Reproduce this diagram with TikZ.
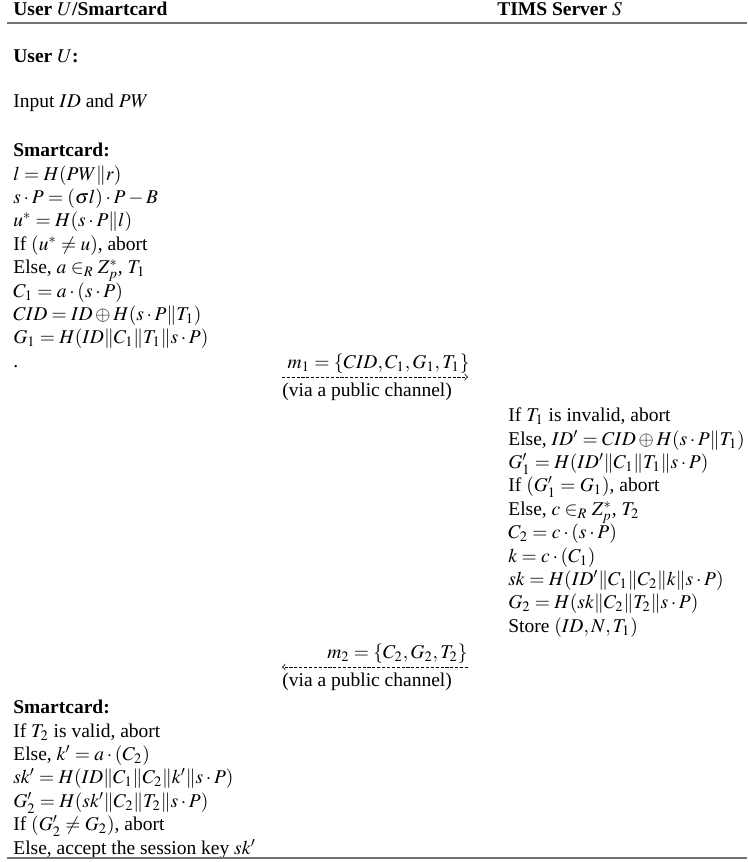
\documentclass[tikz,border=0pt]{standalone}
\usepackage{mathptmx}
\usepackage{fontspec}
\setmainfont{Liberation Serif}
\usetikzlibrary{positioning}
\tikzset{
  txt/.style = {anchor=base west, inner sep=0pt, align=left, font=\fontsize{10}{12}\selectfont},
  hdr/.style = {txt, font=\fontsize{10}{12}\selectfont\bfseries},
  blk/.style = {txt, anchor=north west},
  msg/.style = {->, dash pattern=on 1.6pt off 0.9pt, thin},
  hrule/.style = {line width=1pt, black!55}
}

\begin{document}
\begin{tikzpicture}[x=0.513pt, y=-0.513pt]
\useasboundingbox (0,0) rectangle (747,862);
% header
\node[hdr] (userhead) at (13,16) {User $U$/Smartcard};
\node[hdr] (serverhead) at (497,16) {TIMS Server $S$};
\coordinate (topl) at (7,23);
\coordinate (topr) at (747,23);
\draw[hrule] (topl) -- (topr);

% user side, first part
\node[hdr] (user) at (13,63) {User $U$:};
\node[txt] (input) at (13,108) {Input $ID$ and $PW$};
\node[blk] (card1) at (13,140) {\strut\textbf{Smartcard:}\\
$l = H(PW\|r)$\\
$s\cdot P = (\sigma l)\cdot P - B$\\
$u^{*} = H(s\cdot P\|l)$\\
If $(u^{*}\neq u)$, abort\\
Else, $a\in_R Z_p^{*}$, $T_1$\\
$C_1 = a\cdot(s\cdot P)$\\
$CID = ID\oplus H(s\cdot P\|T_1)$\\
$G_1 = H(ID\|C_1\|T_1\|s\cdot P)$\\
.};

% message m1
\coordinate (m1a) at (282,377);
\coordinate (m1b) at (468,377);
\draw[msg] (m1a) -- (m1b);
\node[txt, above left=1.5pt and -1pt of m1b] (m1) {$m_1 = \{CID, C_1, G_1, T_1\}$};
\node[txt, below right=3pt and 0pt of m1a] (via1) {(via a public channel)};

% server side
\node[blk] (server) at (508,405) {\strut If $T_1$ is invalid, abort\\
Else, $ID' = CID\oplus H(s\cdot P\|T_1)$\\
$G_1' = H(ID'\|C_1\|T_1\|s\cdot P)$\\
If $(G_1' = G_1)$, abort\\
Else, $c\in_R Z_p^{*}$, $T_2$\\
$C_2 = c\cdot(s\cdot P)$\\
$k = c\cdot(C_1)$\\
$sk = H(ID'\|C_1\|C_2\|k\|s\cdot P)$\\
$G_2 = H(sk\|C_2\|T_2\|s\cdot P)$\\
Store $(ID, N, T_1)$};

% message m2
\coordinate (m2a) at (282,667);
\coordinate (m2b) at (468,667);
\draw[msg] (m2b) -- (m2a);
\node[txt, above left=1.5pt and 0pt of m2b] (m2) {$m_2 = \{C_2, G_2, T_2\}$};
\node[txt, below right=3pt and 0pt of m2a] (via2) {(via a public channel)};

% user side, second part
\node[blk] (card2) at (13,697) {\strut\textbf{Smartcard:}\\
If $T_2$ is valid, abort\\
Else, $k' = a\cdot(C_2)$\\
$sk' = H(ID\|C_1\|C_2\|k'\|s\cdot P)$\\
$G_2' = H(sk'\|C_2\|T_2\|s\cdot P)$\\
If $(G_2'\neq G_2)$, abort\\
Else, accept the session key $sk'$};

\coordinate (botl) at (7,858);
\coordinate (botr) at (747,858);
\draw[hrule] (botl) -- (botr);
\end{tikzpicture}
\end{document}
